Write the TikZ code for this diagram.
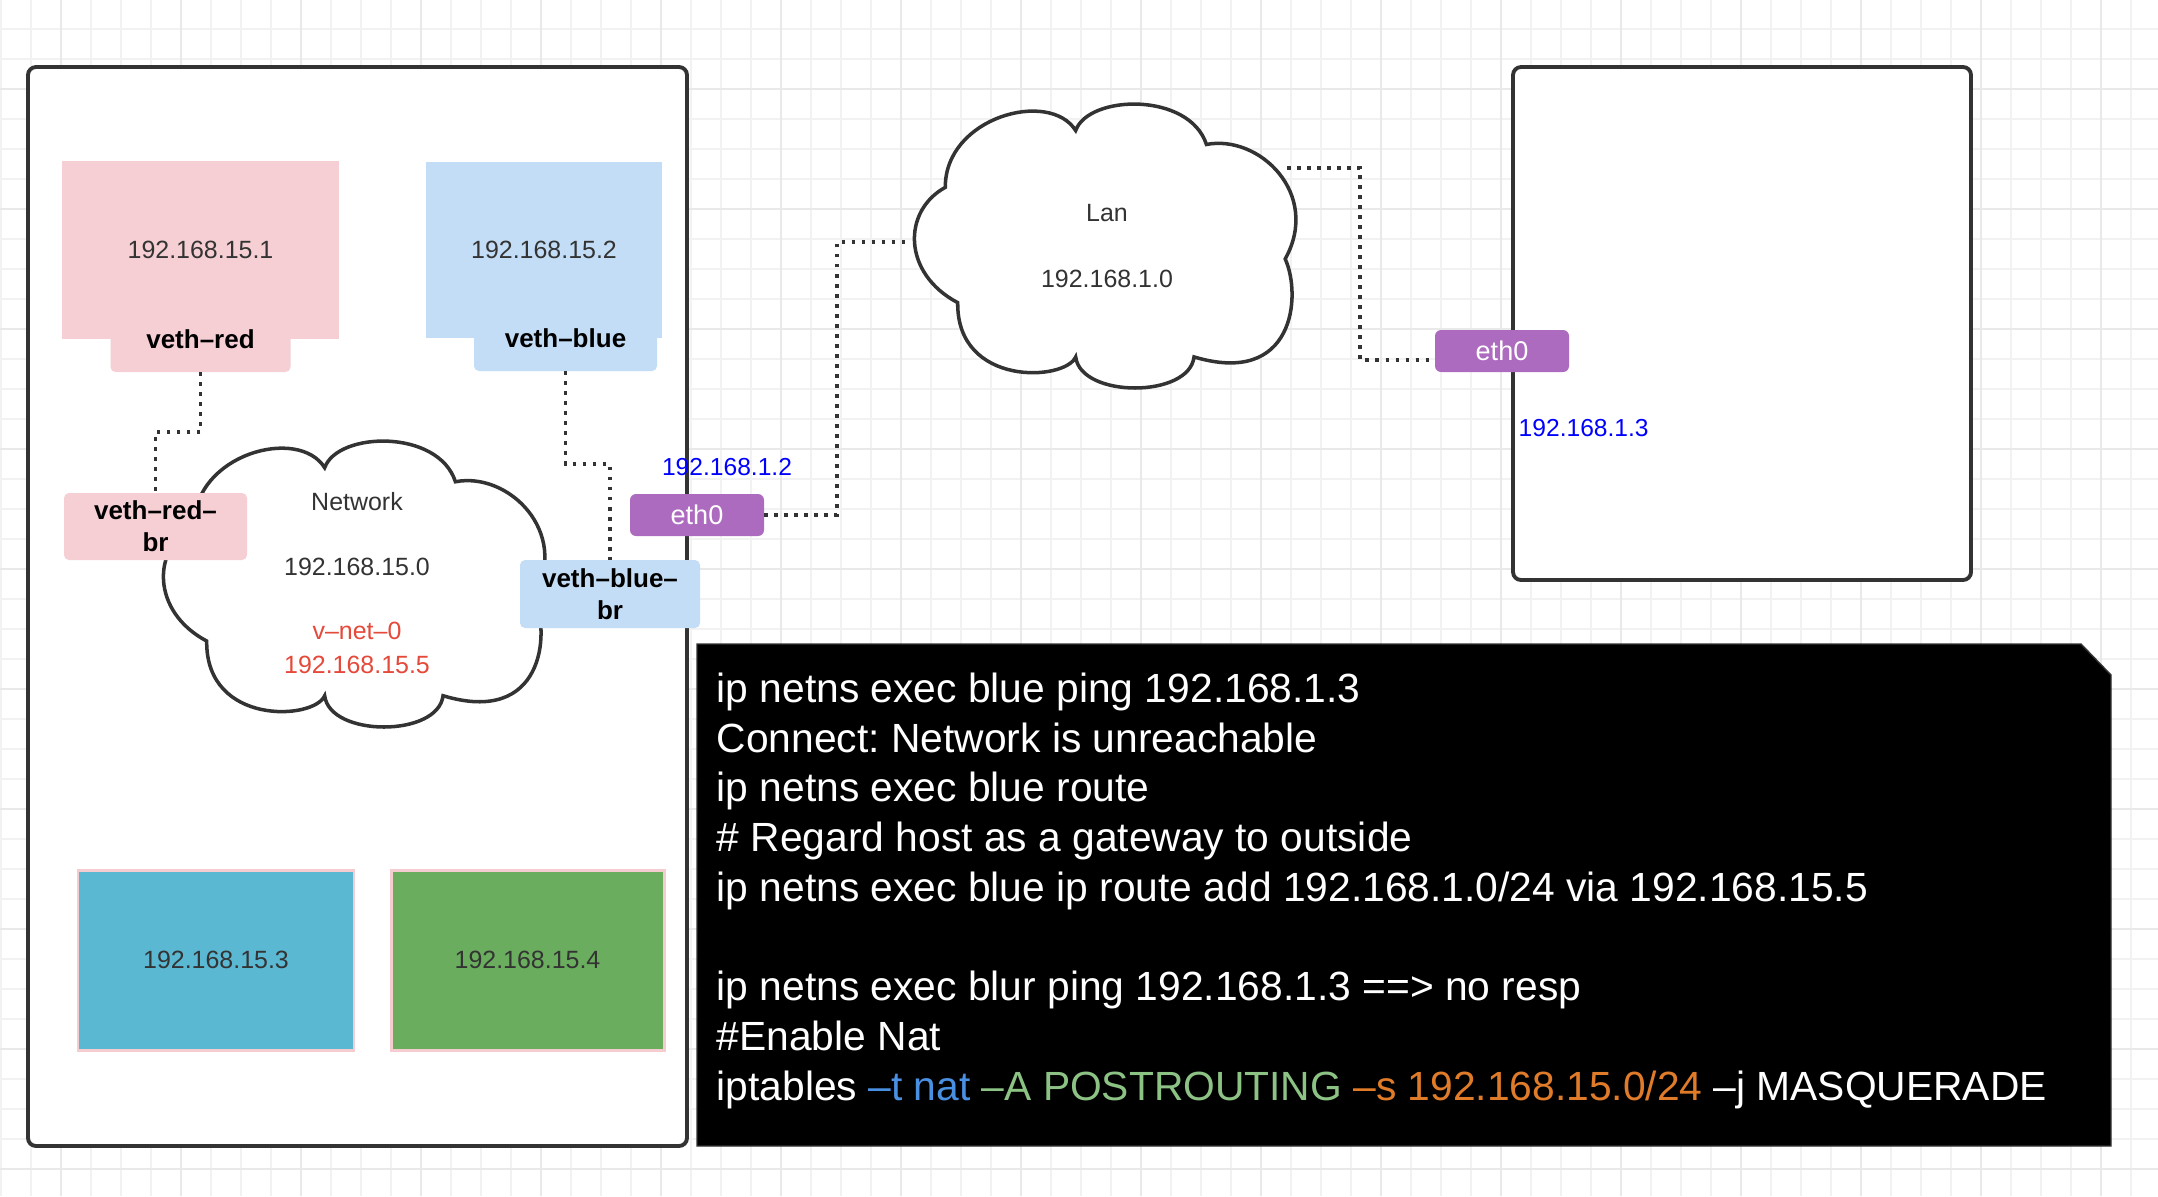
\documentclass[tikz,border=0pt]{standalone}
\usepackage{fontspec}
\setmainfont{Liberation Sans}
\usetikzlibrary{positioning}
\frenchspacing

\definecolor{gridline}{HTML}{F2F2F2}
\definecolor{gridmajor}{HTML}{E9E9E9}
\definecolor{edge}{HTML}{333333}
\definecolor{redfill}{HTML}{F5CFD4}
\definecolor{bluefill}{HTML}{C3DDF6}
\definecolor{ethfill}{HTML}{AD6BC0}
\definecolor{cyanfill}{HTML}{5BB8D2}
\definecolor{greenfill}{HTML}{6AAD5E}
\definecolor{pinkedge}{HTML}{F5CDD1}
\definecolor{vnetred}{HTML}{E5493A}
\definecolor{optblue}{HTML}{4A90E2}
\definecolor{optgreen}{HTML}{8CC385}
\definecolor{optorange}{HTML}{E07B2A}

% cloud outline in unit coordinates
\newcommand{\cloudpath}{(0.427,0.097) .. controls (0.46,-0.03) and (0.72,-0.04) .. (0.764,0.146)
  .. controls (0.90,0.11) and (1.06,0.32) .. (0.967,0.549)
  .. controls (1.01,0.68) and (0.99,1.0) .. (0.732,0.894)
  .. controls (0.72,1.04) and (0.44,1.04) .. (0.427,0.894)
  .. controls (0.40,0.98) and (0.12,1.0) .. (0.123,0.703)
  .. controls (-0.02,0.6) and (-0.02,0.38) .. (0.091,0.297)
  .. controls (0.09,0.05) and (0.36,-0.05) .. (0.427,0.097) -- cycle}

\tikzset{
  hostbox/.style={draw=edge, line width=1.1pt, fill=white, rounded corners=0.8mm, inner sep=0pt, outer sep=0pt},
  nsbox/.style={inner sep=0pt, outer sep=0pt, text=edge, font=\fontsize{7.1pt}{9pt}\selectfont},
  vethtab/.style={rounded corners=0.5mm, inner sep=0pt, outer sep=0pt, align=center, font=\fontsize{7.4pt}{9.1pt}\selectfont\bfseries},
  ethbox/.style={fill=ethfill, rounded corners=0.6mm, text=white, minimum width=13.4mm, minimum height=4.2mm, inner sep=0pt, outer sep=0pt, font=\fontsize{7.7pt}{9pt}\selectfont},
  wire/.style={draw=edge, line width=1.05pt, dash pattern=on 1.05pt off 1.8pt},
  cloudline/.style={draw=edge, line width=1pt, fill=white},
  iplabel/.style={text=blue, font=\fontsize{7pt}{9pt}\selectfont},
  graylabel/.style={text=edge, font=\fontsize{7.1pt}{9pt}\selectfont},
  redlabel/.style={text=vnetred, font=\fontsize{7.1pt}{9pt}\selectfont},
  vmbox/.style={draw=pinkedge, line width=0.85pt, inner sep=0pt, text=edge, font=\fontsize{7.1pt}{9pt}\selectfont},
  cmdtext/.style={text=white, align=left, inner sep=0pt, anchor=north west, font=\fontsize{11.6pt}{14.15pt}\selectfont}
}

\begin{document}
\begin{tikzpicture}[x=0.1mm, y=-0.1mm]
  \useasboundingbox (0,0) rectangle (2158,1196);

  % background grid
  \foreach \gx in {1,31,...,2160} \draw[gridline, line width=0.55pt] (\gx,0) -- (\gx,1196);
  \foreach \gy in {29,59,...,1196} \draw[gridline, line width=0.55pt] (0,\gy) -- (2158,\gy);
  \foreach \gx in {61,181,...,2160} \draw[gridmajor, line width=0.55pt] (\gx,0) -- (\gx,1196);
  \foreach \gy in {89,209,...,1196} \draw[gridmajor, line width=0.55pt] (0,\gy) -- (2158,\gy);

  % hosts
  \node[hostbox, minimum width=65.9mm, minimum height=107.9mm] (hostA) at (357.5,606.5) {};
  \node[hostbox, minimum width=45.8mm, minimum height=51.3mm] (hostB) at (1742,323.5) {};

  % namespaces
  \node[nsbox, fill=redfill, minimum width=27.7mm, minimum height=17.8mm] (red) at (200.5,250) {192.168.15.1};
  \node[nsbox, fill=bluefill, minimum width=23.6mm, minimum height=17.6mm] (blue) at (544,250) {192.168.15.2};
  \node[vethtab, fill=redfill, minimum width=18mm, minimum height=6.6mm] (vred) at (red.south) {veth–red};
  \node[vethtab, fill=bluefill, minimum width=18.3mm, minimum height=6.6mm] (vblue) at ([xshift=2.15mm]blue.south) {veth–blue};

  % clouds
  \begin{scope}[shift={(159,440)}, xscale=388, yscale=286]
    \draw[cloudline] \cloudpath;
  \end{scope}
  \begin{scope}[shift={(910,103)}, xscale=388, yscale=284]
    \draw[cloudline] \cloudpath;
  \end{scope}
  \node[graylabel] (net) at (357,502) {Network};
  \node[graylabel] (netip) at (357,567) {192.168.15.0};
  \node[redlabel] (vnet) at (357,631) {v–net–0};
  \node[redlabel] (vnetip) at (357,665) {192.168.15.5};
  \node[graylabel] (lan) at (1107,213) {Lan};
  \node[graylabel] (lanip) at (1107,279) {192.168.1.0};
  \coordinate (lanw) at (910,242);
  \coordinate (lane) at (1287,168);

  % bridge ends and eth0
  \node[vethtab, fill=redfill, minimum width=18.3mm, minimum height=6.7mm] (vredbr) at (155.5,526.5) {veth–red–\\br};
  \node[vethtab, fill=bluefill, minimum width=18mm, minimum height=6.8mm] (vbluebr) at (610,594) {veth–blue–\\br};
  \node[ethbox] (etha) at (697,515) {eth0};
  \node[ethbox] (ethb) at (1502,351) {eth0};
  \node[iplabel] (ipa) at (727,467) {192.168.1.2};
  \node[iplabel, anchor=west, inner sep=0pt] (ipb) at (1518,428) {192.168.1.3};

  % links
  \draw[wire] (vred.south) -- ++(0,60) -| (vredbr.north);
  \draw[wire] (vblue.south) -- ++(0,93) -| (vbluebr.north);
  \draw[wire] (etha.east) -- ++(73,0) |- (lanw);
  \draw[wire] (lane) -- ++(73,0) |- ([yshift=-0.9mm]ethb.west);

  % other namespaces
  \node[vmbox, fill=cyanfill, minimum width=27.6mm, minimum height=18mm] (vm3) at (216,960) {192.168.15.3};
  \node[vmbox, fill=greenfill, minimum width=27.3mm, minimum height=18mm] (vm4) at (527.5,960) {192.168.15.4};

  % commands
  \filldraw[fill=black, draw=edge, line width=0.4pt] (697,644) -- (2081,644) -- (2111,675) -- (2111,1146) -- (697,1146) -- cycle;
  \node[cmdtext] (cmd) at (716,672) {ip netns exec blue ping 192.168.1.3\\
    Connect: Network is unreachable\\
    ip netns exec blue route\\
    \# Regard host as a gateway to outside\\
    ip netns exec blue ip route add 192.168.1.0/24 via 192.168.15.5\\[14.15pt]
    ip netns exec blur ping 192.168.1.3 ==> no resp\\
    \#Enable Nat\\
    iptables {\color{optblue}–t nat} {\color{optgreen}–A POSTROUTING} {\color{optorange}–s 192.168.15.0/24} –j MASQUERADE};
\end{tikzpicture}
\end{document}
